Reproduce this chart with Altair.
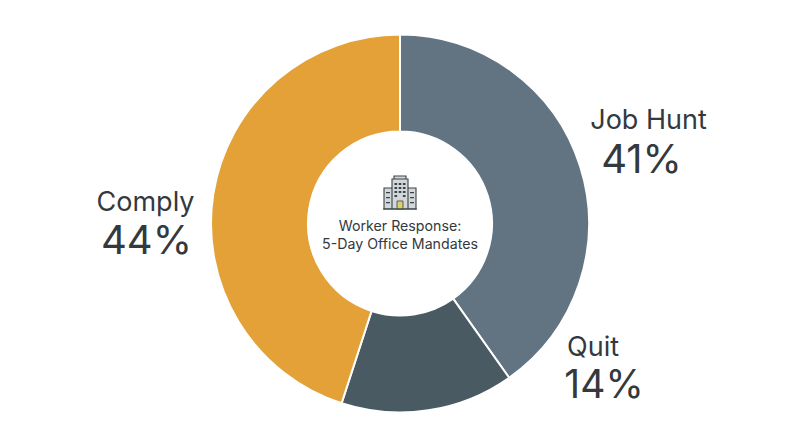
import altair as alt
import pandas as pd

categories = ["Job Hunt", "Quit", "Comply"]
slice_shares = [40.2, 14.8, 45.0]
slice_order = [1, 2, 3]
slice_colors = ["#627382", "#4A5A62", "#E3A137"]
label_percents = ["41%", "14%", "44%"]
title_lines = ["Worker Response:", "5-Day Office Mandates"]

FONT = "Inter"
INK = "#33393D"

df = pd.DataFrame({"cat": categories, "share": slice_shares, "ord": slice_order})

donut = alt.Chart(df).mark_arc(innerRadius=92, outerRadius=189, stroke="white", strokeWidth=2).encode(
    theta=alt.Theta("share:Q", stack=True),
    order=alt.Order("ord:Q"),
    color=alt.Color("cat:N", scale=alt.Scale(domain=categories, range=slice_colors), legend=None),
)


def label(text, cx, base, size, weight=400):
    return alt.Chart(pd.DataFrame({"t": [text]})).mark_text(
        font=FONT, fontSize=size, fontWeight=weight, color=INK, align="center", baseline="alphabetic"
    ).encode(text="t:N", x=alt.value(cx - 8), y=alt.value(base - 8))


labels = [
    label(categories[0], 648.5, 129, 27),
    label(label_percents[0], 641.5, 173, 40),
    label(categories[1], 593, 356, 27),
    label(label_percents[1], 604, 398, 39),
    label(categories[2], 145.5, 211, 27),
    label(label_percents[2], 146.5, 254, 40),
    label(title_lines[0], 400, 231, 14.2),
    label(title_lines[1], 400, 249, 14.2),
]

# building icon as SVG symbol paths (scaled by the symbol size)
U = 34.0


def p(x0, y0, x1, y1):
    a, b, c, d = x0 / U, y0 / U, x1 / U, y1 / U
    return f"M{a:.4f} {b:.4f}H{c:.4f}V{d:.4f}H{a:.4f}Z"


body = p(-8, -14, 8, 16) + p(-16, -5, -8, 16) + p(8, -5, 16, 16) + p(-6, -17, 6, -14)
base_line = p(-17, 15.6, 17, 16.6)
windows = "".join(
    p(x, y, x + 2.6, y + 2) for x in (-5.5, -1.3, 2.9) for y in (-10, -6, -2)
) + p(-5.5, 2, -2.9, 4) + p(2.9, 2, 5.5, 4) + "".join(
    p(x, y, x + 4, y + 1.3) for x in (-14, 10) for y in (-1, 4, 9)
)
door = p(-3, 8, 3, 16)


def icon(path, fill, stroke=None, sw=0):
    kw = {"stroke": stroke, "strokeWidth": sw} if stroke else {"strokeWidth": 0}
    return alt.Chart(pd.DataFrame({"a": [1]})).mark_point(
        shape=path, filled=True, fill=fill, opacity=1, size=4 * U * U, **kw
    ).encode(x=alt.value(400 - 8), y=alt.value(193 - 8))


icons = [
    icon(body, "#D3D7D9", "#3A4347", 1.1),
    icon(windows, "#3A4347"),
    icon(door, "#D9D26A", "#3A4347", 0.8),
    icon(base_line, "#3A4347"),
]

chart = alt.layer(donut, *labels, *icons).properties(
    width=784, height=431, autosize=alt.AutoSizeParams(type="none"), padding=0
).configure_view(stroke=None)

chart.save("out.html", embed_options={"renderer": "svg", "actions": False})
